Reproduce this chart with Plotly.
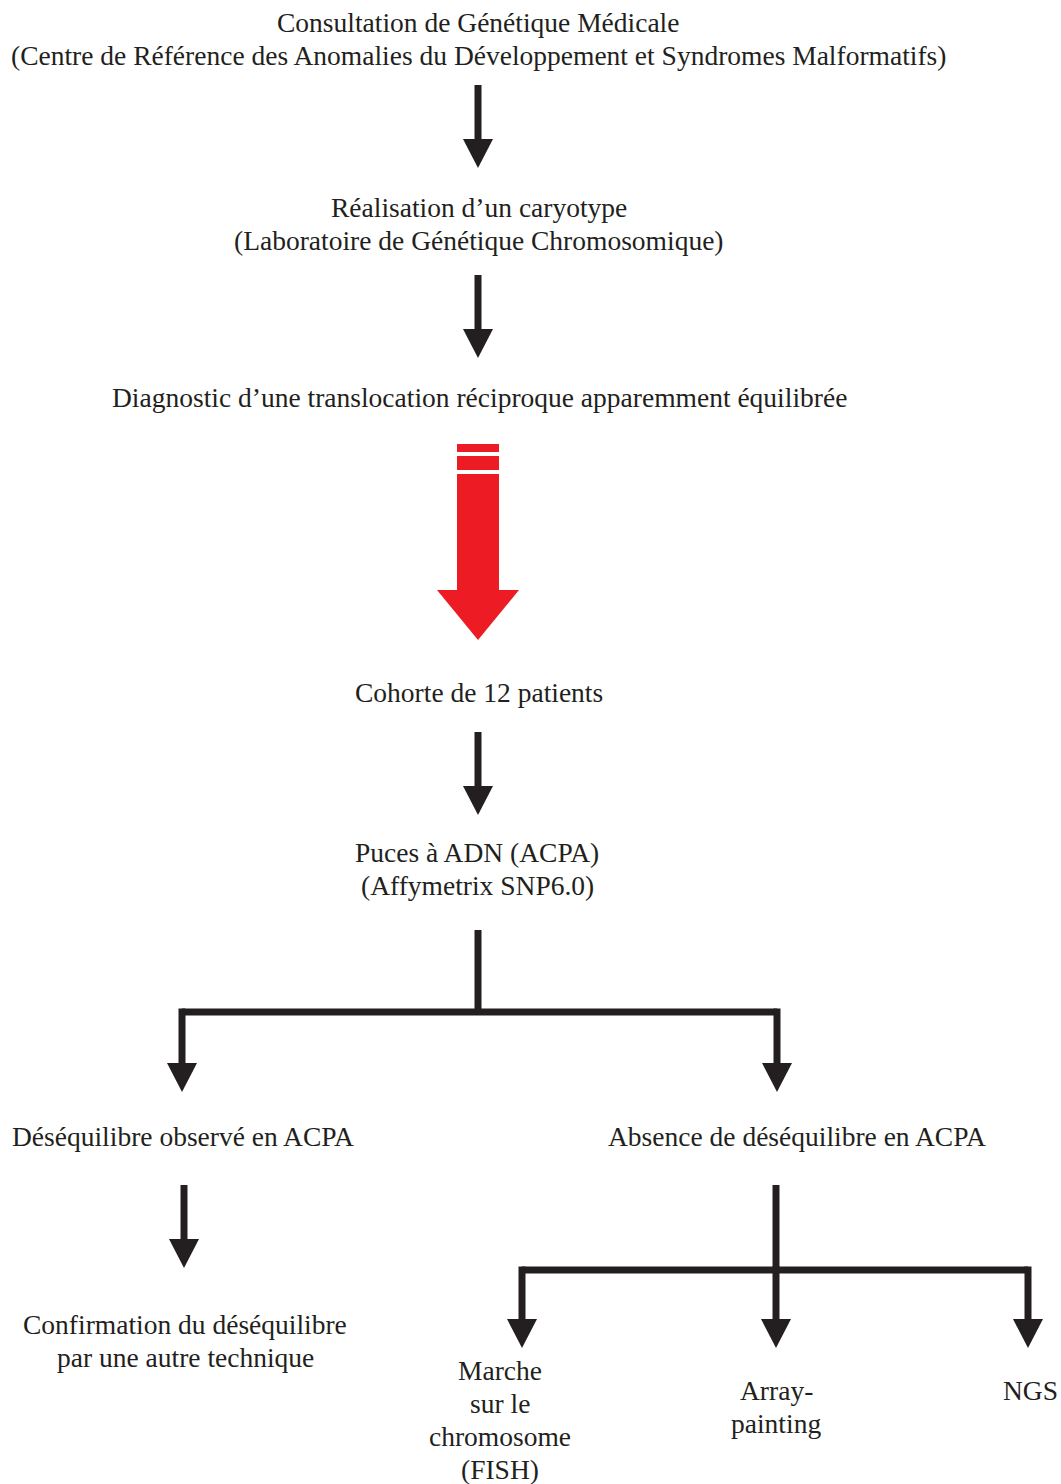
import plotly.graph_objects as go

W, H = 1061, 1484
INK = "#231F20"
RED = "#ED1C24"
FONT = "Liberation Serif"
FS = 27.5

# Text lines: (text, x-centre, y-centre)
labels = [
    "Consultation de Génétique Médicale",
    "(Centre de Référence des Anomalies du Développement et Syndromes Malformatifs)",
    "Réalisation d’un caryotype",
    "(Laboratoire de Génétique Chromosomique)",
    "Diagnostic d’une translocation réciproque apparemment équilibrée",
    "Cohorte de 12 patients",
    "Puces à ADN (ACPA)",
    "(Affymetrix SNP6.0)",
    "Déséquilibre observé en ACPA",
    "Absence de déséquilibre en ACPA",
    "Confirmation du déséquilibre",
    "par une autre technique",
    "Marche",
    "sur le",
    "chromosome",
    "(FISH)",
    "Array-",
    "painting",
    "NGS",
]
label_x = [478, 478, 479, 479, 479, 479, 477, 477, 183, 797, 185, 185,
           500, 500, 500, 500, 776, 776, 1030]
label_y = [22, 55, 207, 240, 397, 692, 852, 885, 1136, 1136, 1324, 1357,
           1370, 1403, 1436, 1469, 1390, 1423, 1390]

# Black arrows: x, shaft start y, tip y
arrow_x = [478, 478, 478, 182, 777, 184, 522, 776, 1028]
arrow_y0 = [85, 275, 732, 1012, 1012, 1185, 1270, 1270, 1270]
arrow_y1 = [168, 358, 815, 1092, 1092, 1268, 1348, 1348, 1348]

# Connector lines (no heads): x0, y0, x1, y1
conn_x0 = [478, 182, 776, 522]
conn_y0 = [930, 1012, 1185, 1270]
conn_x1 = [478, 777, 776, 1028]
conn_y1 = [1012, 1012, 1270, 1270]

# Red arrow geometry (x centre, top, tip)
red_x, red_top, red_tip = 478, 444, 640

SHAFT = 7
HEAD_W = 30
HEAD_H = 29

shapes = []
for x0, y0, x1, y1 in zip(conn_x0, conn_y0, conn_x1, conn_y1):
    shapes.append(dict(type="line", xref="x", yref="y", x0=x0, y0=y0, x1=x1, y1=y1,
                       line=dict(color=INK, width=SHAFT)))
for x, y0, y1 in zip(arrow_x, arrow_y0, arrow_y1):
    hb = y1 - HEAD_H
    start = y0 - SHAFT / 2 if y0 in conn_y1 else y0
    shapes.append(dict(type="line", xref="x", yref="y", x0=x, y0=start, x1=x, y1=hb + 2,
                       line=dict(color=INK, width=SHAFT)))
    path = f"M {x - HEAD_W/2} {hb} L {x + HEAD_W/2} {hb} L {x} {y1} Z"
    shapes.append(dict(type="path", xref="x", yref="y", path=path,
                       fillcolor=INK, line=dict(color=INK, width=0)))

# Red arrow: two bars, shaft, head
rw = 21  # half width of shaft
bars = [(red_top, red_top + 8), (red_top + 12, red_top + 26)]
for b0, b1 in bars:
    shapes.append(dict(type="rect", xref="x", yref="y", x0=red_x - rw, x1=red_x + rw,
                       y0=b0, y1=b1, fillcolor=RED, line=dict(width=0)))
shaft_top = red_top + 30
head_base = red_tip - 50
shapes.append(dict(type="rect", xref="x", yref="y", x0=red_x - rw, x1=red_x + rw,
                   y0=shaft_top, y1=head_base + 1, fillcolor=RED, line=dict(width=0)))
shapes.append(dict(type="path", xref="x", yref="y",
                   path=f"M {red_x - 41} {head_base} L {red_x + 41} {head_base} L {red_x} {red_tip} Z",
                   fillcolor=RED, line=dict(width=0)))

annotations = [
    dict(text=t, x=x, y=y, xref="x", yref="y", showarrow=False,
         xanchor="center", yanchor="middle",
         font=dict(family=FONT, size=FS, color=INK))
    for t, x, y in zip(labels, label_x, label_y)
]

fig = go.Figure()
fig.add_trace(go.Scatter(x=[0, W], y=[0, H], mode="markers",
                         marker=dict(opacity=0), hoverinfo="skip", showlegend=False))
fig.update_layout(
    width=W, height=H, autosize=False,
    margin=dict(l=0, r=0, t=0, b=0),
    paper_bgcolor="white", plot_bgcolor="white",
    xaxis=dict(range=[0, W], visible=False, fixedrange=True),
    yaxis=dict(range=[H, 0], visible=False, fixedrange=True),
    shapes=shapes, annotations=annotations,
)
fig.write_html(
    "out.html",
    config={"displayModeBar": False},
    post_script="document.body.style.margin='0';document.body.style.overflow='hidden';",
)
